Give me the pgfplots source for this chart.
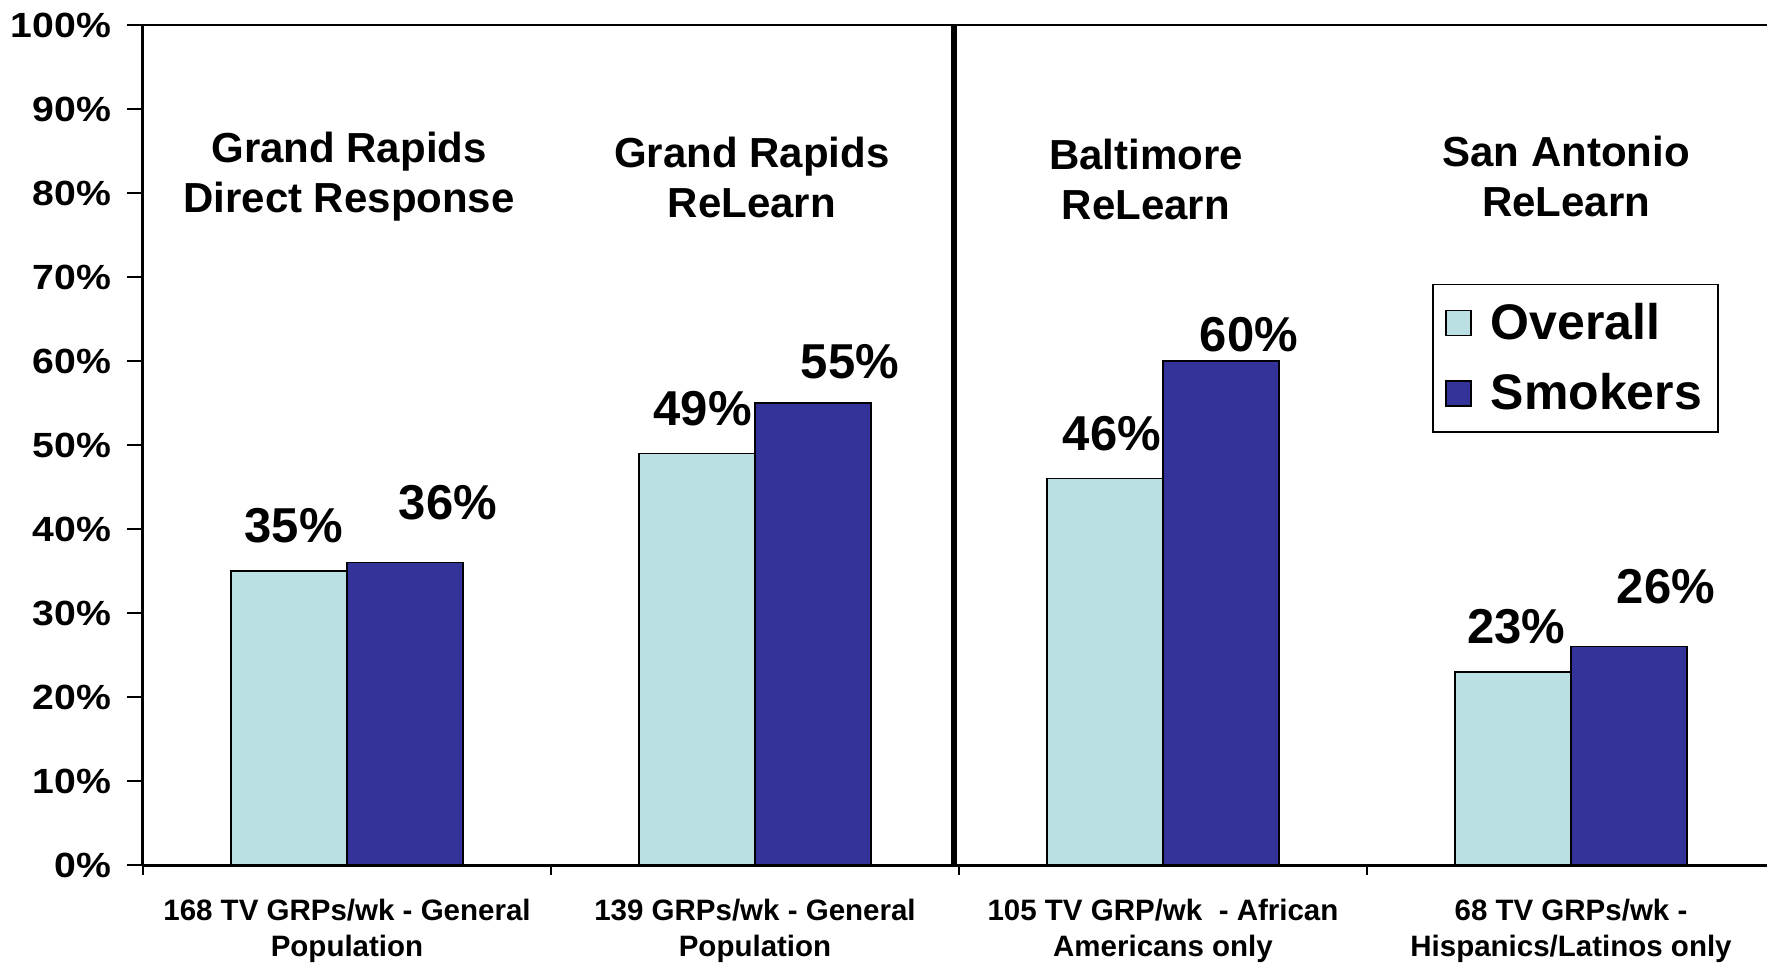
\documentclass[border=0pt]{standalone}
\usepackage{pgfplots}
\pgfplotsset{compat=1.18}
\usepackage{pgfplotstable}
\usepackage{fontspec}
\setmainfont{Liberation Sans}

\definecolor{overallcol}{RGB}{186,224,228}
\definecolor{smokerscol}{RGB}{51,51,153}

% x = group centre, y = share in %, dx/dy = label offsets in pt
\pgfplotstableread{
x   y   dx   dy
0.5 35  2.3  22.5
1.5 49  2.8  22.5
2.5 46  3.4  22.5
3.5 23  1.7  22.5
}\overalltable
\pgfplotstableread{
x   y   dx   dy
0.5 36  21.5 30
1.5 55  18.5 20.5
2.5 60  14   13
3.5 26  18.5 30
}\smokerstable

\begin{document}
\begin{tikzpicture}
\begin{axis}[
  name=ax,
  scale only axis,
  width=816pt, height=420pt,
  xmin=0, xmax=4, ymin=0, ymax=100,
  ybar=0pt, bar width=58pt,
  axis x line*=bottom, axis y line*=left,
  axis line style={line width=1.5pt, black},
  tick align=outside,
  xtick={0.5,1.5,2.5,3.5},
  xticklabels={
    {168 TV GRPs/wk - General\\Population},
    {139 GRPs/wk - General\\Population},
    {105 TV GRP/wk\ \ - African\\Americans only},
    {68 TV GRPs/wk -\\Hispanics/Latinos only}},
  xticklabel style={font=\fontsize{14.75}{18}\selectfont\bfseries, align=center,
    yshift=-5.5pt},
  minor xtick={0,1,2,3,4},
  major x tick style={draw=none},
  minor x tick style={line width=1pt, black},
  minor tick length=5pt,
  ytick={0,10,...,100},
  yticklabel={\pgfmathprintnumber{\tick}\%},
  yticklabel style={font=\fontsize{17.5}{20}\selectfont\bfseries, xscale=1.12,
    xshift=-3.5pt},
  major y tick style={line width=1pt, black},
  major tick length=8pt,
  /pgf/number format/assume math mode=true,
  legend style={at={(rel axis cs:0.79,0.692)}, anchor=north west,
    draw=black, line width=0.8pt,
    font=\fontsize{25}{30}\selectfont\bfseries,
    legend cell align=left, row sep=11.5pt,
    inner xsep=6pt, inner ysep=7.5pt},
  legend image code/.code={
    \draw[#1, line width=0.8pt] (0pt,-6.25pt) rectangle (12.5pt,6.25pt);
    \path (20pt,0pt);},
  visualization depends on={\thisrow{dx} \as \dx},
  visualization depends on={\thisrow{dy} \as \dy},
  nodes near coords={\pgfmathprintnumber{\pgfplotspointmeta}\%},
  nodes near coords style={font=\fontsize{24.5}{29}\selectfont\bfseries,
    anchor=center, xshift=\dx pt, yshift=\dy pt, black},
]
\addplot[draw=black, line width=0.8pt, fill=overallcol] table[x=x, y=y] {\overalltable};
\addplot[draw=black, line width=0.8pt, fill=smokerscol] table[x=x, y=y] {\smokerstable};
\legend{Overall, Smokers}

% frame top and the divider between the Grand Rapids and other markets
\draw[line width=1pt] (rel axis cs:0,1) -- (rel axis cs:1,1);
\draw[line width=3pt] (axis cs:1.987,0) -- (axis cs:1.987,100);

% market / campaign headings
\begin{scope}[every node/.style={font=\fontsize{21}{25}\selectfont\bfseries, align=center}]
\node at (axis cs:0.505,82.0) {Grand Rapids\\Direct Response};
\node at (axis cs:1.492,81.8) {Grand Rapids\\ReLearn};
\node at (axis cs:2.458,81.6) {Baltimore\\ReLearn};
\node at (axis cs:3.488,82.0) {San Antonio\\ReLearn};
\end{scope}
\end{axis}
\pgfresetboundingbox
\path ([xshift=-71.5pt,yshift=-49.5pt]ax.south west) rectangle ([xshift=-4pt,yshift=12.5pt]ax.north east);
\end{tikzpicture}
\end{document}
